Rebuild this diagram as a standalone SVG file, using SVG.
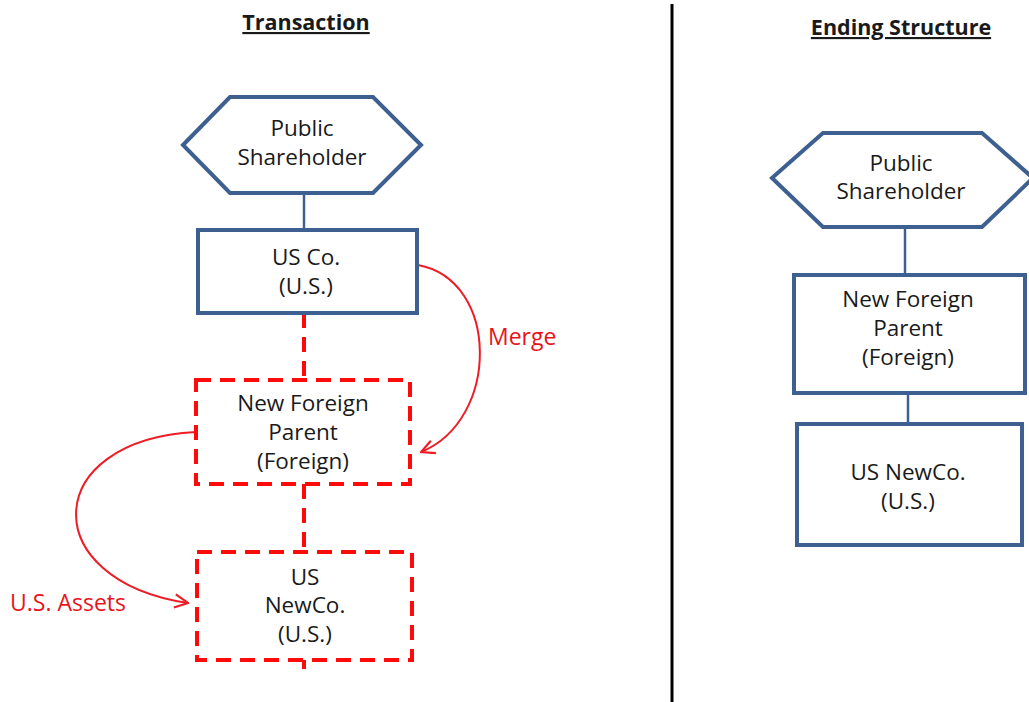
<svg xmlns="http://www.w3.org/2000/svg" width="1029" height="702" viewBox="0 0 1029 702">
  <style>
    .lbl { font-family: "Open Sans", "Liberation Sans", sans-serif; font-size: 22.5px; fill: #1a1a1a; text-anchor: middle; }
    .title { font-family: "Open Sans", "Liberation Sans", sans-serif; font-size: 21.5px; font-weight: bold; fill: #1a1a1a; text-anchor: middle; text-decoration: underline; }
    .red { font-family: "Open Sans", "Liberation Sans", sans-serif; font-size: 23px; fill: #e8141c; }
    .solid { fill: #ffffff; stroke: #3d6090; stroke-width: 4; }
    .dashed { fill: #ffffff; stroke: #ff0a0a; stroke-width: 4; stroke-dasharray: 15 9; }
    .link { stroke: #3d6090; stroke-width: 2.5; fill: none; }
    .dlink { stroke: #ff0a0a; stroke-width: 4; stroke-dasharray: 15 9; fill: none; }
    .flow { stroke: #ee1c25; stroke-width: 2; fill: none; marker-end: url(#open); }
  </style>
  <defs>
    <marker id="open" viewBox="0 0 12 12" refX="11" refY="6" markerWidth="16" markerHeight="16" markerUnits="userSpaceOnUse" orient="auto">
      <path d="M1,1 L11,6 L1,11" fill="none" stroke="#ee1c25" stroke-width="1.6"/>
    </marker>
  </defs>

  <rect width="1029" height="702" fill="#ffffff"/>

  <!-- section titles and divider -->
  <text class="title" x="306" y="30">Transaction</text>
  <text class="title" x="901" y="35">Ending Structure</text>
  <line x1="672" y1="4" x2="672" y2="702" stroke="#000000" stroke-width="3"/>

  <!-- connectors -->
  <g id="connectors">
    <line class="link" x1="304" y1="193" x2="304" y2="230"/>
    <line class="dlink" x1="304" y1="313" x2="304" y2="380"/>
    <line class="dlink" x1="304" y1="484" x2="304" y2="552"/>
    <line class="dlink" x1="304" y1="660" x2="304" y2="669" style="stroke-dasharray:none"/>
    <path class="flow" d="M418,265 C500,280 500,420 421,452"/>
    <path class="flow" d="M196,432 C40,440 35,580 188,603"/>
    <line class="link" x1="905" y1="227" x2="905" y2="275"/>
    <line class="link" x1="908" y1="393" x2="908" y2="424"/>
  </g>

  <!-- transaction side -->
  <g id="public-shareholder-a">
    <polygon class="solid" points="183,145 230,97 373,97 421,145 373,193 230,193"/>
    <text class="lbl" x="302" y="136">Public</text>
    <text class="lbl" x="302" y="165">Shareholder</text>
  </g>
  <g id="us-co">
    <rect class="solid" x="198" y="230" width="219" height="83"/>
    <text class="lbl" x="306" y="265">US Co.</text>
    <text class="lbl" x="306" y="294">(U.S.)</text>
  </g>
  <g id="new-foreign-parent-a">
    <rect class="dashed" x="196" y="380" width="214" height="104"/>
    <text class="lbl" x="303" y="411">New Foreign</text>
    <text class="lbl" x="303" y="440">Parent</text>
    <text class="lbl" x="303" y="469">(Foreign)</text>
  </g>
  <g id="us-newco-a">
    <rect class="dashed" x="197" y="552" width="215" height="108"/>
    <text class="lbl" x="305" y="585">US</text>
    <text class="lbl" x="305" y="613">NewCo.</text>
    <text class="lbl" x="305" y="642">(U.S.)</text>
  </g>
  <text class="red" x="488" y="345">Merge</text>
  <text class="red" x="10" y="611">U.S. Assets</text>

  <!-- ending structure side -->
  <g id="public-shareholder-b">
    <polygon class="solid" points="772,178 823,133 982,133 1033,178 982,227 823,227"/>
    <text class="lbl" x="901" y="171">Public</text>
    <text class="lbl" x="901" y="199">Shareholder</text>
  </g>
  <g id="new-foreign-parent-b">
    <rect class="solid" x="794" y="275" width="231" height="118"/>
    <text class="lbl" x="908" y="307">New Foreign</text>
    <text class="lbl" x="908" y="336">Parent</text>
    <text class="lbl" x="908" y="365">(Foreign)</text>
  </g>
  <g id="us-newco-b">
    <rect class="solid" x="797" y="424" width="225" height="121"/>
    <text class="lbl" x="908" y="480">US NewCo.</text>
    <text class="lbl" x="908" y="509">(U.S.)</text>
  </g>
</svg>
